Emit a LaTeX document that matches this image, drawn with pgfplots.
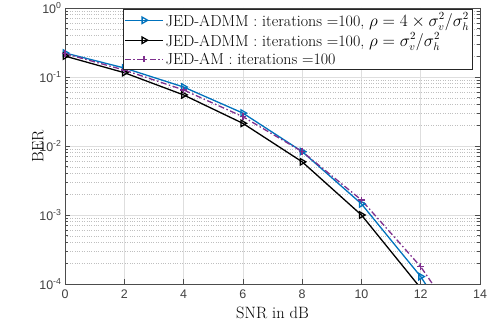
\documentclass[border=0pt]{standalone}
\usepackage{fontspec}
\setsansfont{Liberation Sans}
\usepackage{pgfplots}
\pgfplotsset{compat=1.18}
\definecolor{mblue}{rgb}{0,0.447,0.741}
\definecolor{mpurple}{rgb}{0.494,0.184,0.556}
\begin{document}
\begin{tikzpicture}
\begin{axis}[
 scale only axis, width=415bp, height=276bp,
 xmin=0, xmax=14, ymin=1e-4, ymax=1, ymode=log,
 xtick={0,2,...,14},
 ytick={1e-4,1e-3,1e-2,1e-1,1},
 yticklabels={10\textsuperscript{-4},10\textsuperscript{-3},10\textsuperscript{-2},10\textsuperscript{-1},10\textsuperscript{0}},
 grid=both,
 major grid style={black!13, line width=0.7bp},
 minor grid style={black!25, dotted, line width=0.5bp},
 tick align=inside, major tick length=5bp, minor tick length=3bp,
 axis line style={black!70, line width=0.9bp},
 tick style={black!70, line width=0.7bp},
 ticklabel style={font=\sffamily\fontsize{12.5}{12.5}\selectfont, text=black!75},
 /pgf/number format/assume math mode=true,
 xticklabel style={yshift=-2bp},
 xlabel={SNR in dB}, ylabel={BER},
 label style={font=\fontsize{16.5}{16.5}\selectfont},
 xlabel style={yshift=-2bp},
 ylabel style={yshift=-11bp},
 legend style={at={(0.983,0.996)}, anchor=north east, font=\fontsize{16}{16}\selectfont, draw=black!85, line width=0.6bp, inner sep=1.5bp, row sep=1.2bp},
 legend cell align=left,
 legend image code/.code={\draw[mark repeat=2,mark phase=2] plot coordinates {(0bp,0bp)(19bp,0bp)(38bp,0bp)};},
]
\addplot[mblue, line width=1.3bp, mark=triangle, mark size=3.7bp, mark options={solid, rotate=-90}]
 coordinates {(0,0.223)(2,0.135)(4,0.0716)(6,0.030)(8,0.0083)(10,0.00145)(12,0.000128)(14,6e-6)};
\addlegendentry{JED-ADMM : iterations =100, $\rho = 4\times\sigma_v^2/\sigma_h^2$}
\addplot[black, line width=1.3bp, mark=triangle, mark size=3.7bp, mark options={solid, rotate=-90}]
 coordinates {(0,0.201)(2,0.1155)(4,0.055)(6,0.0213)(8,0.0059)(10,0.001)(12,0.000087)(14,7e-6)};
\addlegendentry{JED-ADMM : iterations =100, $\rho = \sigma_v^2/\sigma_h^2$}
\addplot[mpurple, line width=1.3bp, dash pattern=on 6bp off 2.5bp on 1.5bp off 2.5bp, mark=+, mark size=3.3bp, mark options={solid}]
 coordinates {(0,0.218)(2,0.126)(4,0.065)(6,0.0266)(8,0.0083)(10,0.00165)(12,0.000178)(14,1e-5)};
\addlegendentry{JED-AM : iterations =100}
\end{axis}
\pgfresetboundingbox
\path ([xshift=-65bp,yshift=-47bp]current axis.south west) rectangle ([xshift=7bp,yshift=8bp]current axis.north east);
\end{tikzpicture}
\end{document}
